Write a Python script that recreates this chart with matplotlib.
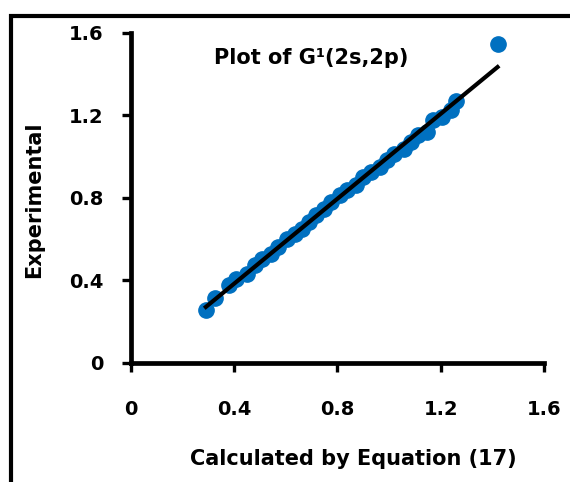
import numpy as np
import matplotlib.pyplot as plt
from matplotlib.patches import Rectangle

# values
calc = [0.290, 0.324, 0.380, 0.408, 0.450, 0.479, 0.507, 0.542, 0.570,
        0.605, 0.634, 0.662, 0.690, 0.718, 0.747, 0.775, 0.810, 0.838,
        0.873, 0.900, 0.930, 0.965, 0.993, 1.020, 1.056, 1.084, 1.113,
        1.148, 1.170, 1.205, 1.240, 1.260, 1.420]
expt = [0.255, 0.315, 0.376, 0.408, 0.429, 0.473, 0.505, 0.529, 0.561,
        0.602, 0.626, 0.650, 0.683, 0.715, 0.747, 0.779, 0.812, 0.836,
        0.860, 0.900, 0.925, 0.949, 0.981, 1.013, 1.038, 1.070, 1.102,
        1.118, 1.175, 1.191, 1.223, 1.271, 1.546]
ticks = [0, 0.4, 0.8, 1.2, 1.6]
tick_labels = ['0', '0.4', '0.8', '1.2', '1.6']

plt.rcParams['font.family'] = ['DejaVu Sans']
plt.rcParams['font.weight'] = 'bold'

fig = plt.figure(figsize=(5.7, 4.82), dpi=100)
ax = fig.add_axes([0.2298, 0.2475, 0.7246, 0.6846])

# outer frame, only its left and top edges fall inside the picture
fig.patches.append(Rectangle((11 / 570, -0.2), 1.2, 0.9678 + 0.2,
                             transform=fig.transFigure, fill=False,
                             edgecolor='black', linewidth=3))

ax.plot(calc, expt, 'o', color='#0070C0', markersize=11, zorder=2,
        clip_on=False)

# linear trendline over the data range
slope, intercept = np.polyfit(calc, expt, 1)
xs = np.array([min(calc), max(calc)])
ax.plot(xs, slope * xs + intercept, color='black', linewidth=3, zorder=3)

ax.set_xlim(0, 1.6)
ax.set_ylim(0, 1.6)
ax.set_xticks(ticks)
ax.set_xticklabels(tick_labels)
ax.set_yticks(ticks)
ax.set_yticklabels(tick_labels)

for side in ['top', 'right']:
    ax.spines[side].set_visible(False)
for side in ['left', 'bottom']:
    ax.spines[side].set_linewidth(3.4)

ax.tick_params(axis='both', direction='out', length=6.5, width=2.4,
               labelsize=14)
ax.tick_params(axis='x', pad=20)
ax.tick_params(axis='y', pad=13)

ax.set_xlabel('Calculated by Equation (17)', fontsize=15, fontweight='bold')
ax.xaxis.set_label_coords(0.539, -0.262)
ax.set_ylabel('Experimental', fontsize=15, fontweight='bold')
ax.yaxis.set_label_coords(-0.211, 0.493)

ax.text(0.436, 0.922, 'Plot of G¹(2s,2p)', transform=ax.transAxes,
        ha='center', va='center', fontsize=15, fontweight='bold')

fig.savefig('out.png', dpi=100)
